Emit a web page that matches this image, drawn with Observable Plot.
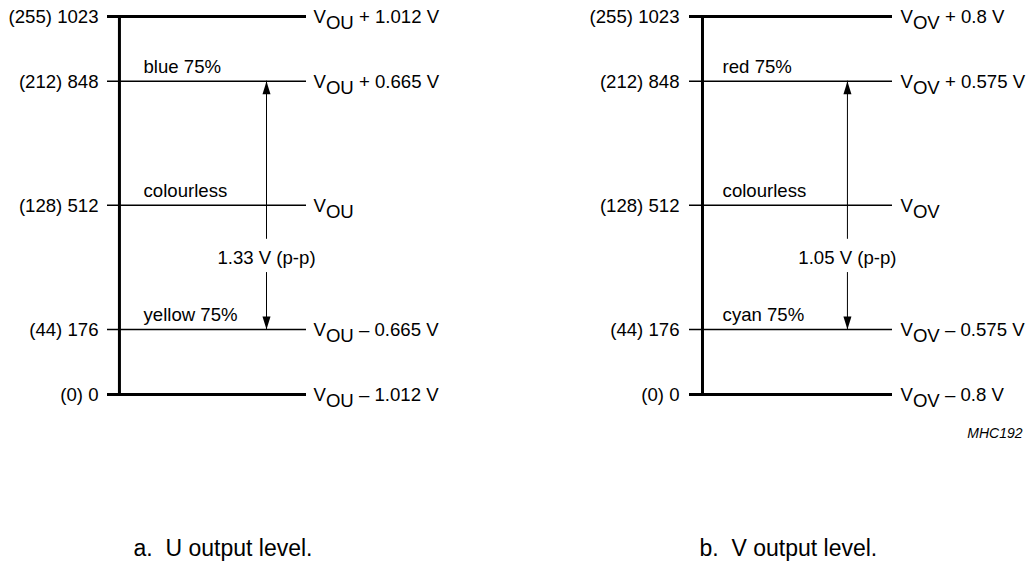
<!DOCTYPE html>
<html><head><meta charset="utf-8">
<script src="https://cdn.jsdelivr.net/npm/d3@7"></script>
<script src="https://cdn.jsdelivr.net/npm/@observablehq/plot@0.6"></script>
<style>
body{margin:0;background:#fff;}
#wrap{display:flex;width:1029px;height:562px;overflow:hidden;}
#wrap svg{display:block;flex:none;}
</style></head><body><div id="wrap"></div>
<script>
// ---- data ----
const codes10 = [1023, 848, 512, 176, 0];
const codes8 = [255, 212, 128, 44, 0];
const uOffsets = ["+ 1.012 V", "+ 0.665 V", "", "– 0.665 V", "– 1.012 V"];
const vOffsets = ["+ 0.8 V", "+ 0.575 V", "", "– 0.575 V", "– 0.8 V"];
const uColours = ["", "blue 75%", "colourless", "yellow 75%", ""];
const vColours = ["", "red 75%", "colourless", "cyan 75%", ""];
const ppLabels = ["1.33 V (p-p)", "1.05 V (p-p)"];
const outputNames = ["U", "V"];
const captions = ["a.\u00a0 U output level.", "b.\u00a0 V output level."];
const arrowLevels = [848, 176];
const figureId = "MHC192";

// ---- layout ----
const FONT = "'Liberation Sans', Arial, Helvetica, sans-serif";
const FS = 18.6;
const layouts = [
  {width: 514, marginLeft: 107, marginRight: 208, axisX: 0.06, labelX: 0.181, arrowX: 0.799, leftDx: -9, rightDx: 7, capDx: 26},
  {width: 515, marginLeft: 175, marginRight: 137, axisX: 0.064, labelX: 0.163, arrowX: 0.778, leftDx: -10, rightDx: 8, capDx: 10}
];
const gapTop = 420, gapBottom = 330, ppLevel = 370;

const arrowUp = {draw(ctx) { ctx.moveTo(0, 0); ctx.lineTo(-4, 13); ctx.lineTo(4, 13); ctx.closePath(); }};
const arrowDown = {draw(ctx) { ctx.moveTo(0, 0); ctx.lineTo(-4, -13); ctx.lineTo(4, -13); ctx.closePath(); }};

function panel(i) {
  const L = layouts[i];
  const offsets = i === 0 ? uOffsets : vOffsets;
  const colours = i === 0 ? uColours : vColours;
  const rows = codes10.map((c, k) => ({
    code: c,
    left: `(${codes8[k]}) ${c}`,
    right: `V|O${outputNames[i]}|${offsets[k]}`,
    colour: colours[k],
    major: c === d3.max(codes10) || c === d3.min(codes10)
  }));
  const marks = [
    Plot.ruleY(rows, {y: "code", x1: 0, x2: 1, stroke: "black", strokeWidth: d => d.major ? 3 : 1.5}),
    Plot.ruleX([L.axisX], {x: d => d, y1: d3.min(codes10), y2: d3.max(codes10), stroke: "black", strokeWidth: 3}),
    Plot.text(rows, {x: 0, y: "code", text: "left", textAnchor: "end", dx: L.leftDx, dy: 1, fontSize: FS, fill: "black"}),
    Plot.text(rows, {x: 1, y: "code", text: "right", textAnchor: "start", dx: L.rightDx, dy: 1, fontSize: FS, fill: "black"}),
    Plot.text(rows.filter(d => d.colour), {x: L.labelX, y: "code", text: "colour", textAnchor: "start", lineAnchor: "bottom", dy: -8, fontSize: FS, fill: "black"}),
    Plot.ruleX([L.arrowX], {x: d => d, y1: arrowLevels[0], y2: gapTop, stroke: "black", strokeWidth: 1}),
    Plot.ruleX([L.arrowX], {x: d => d, y1: gapBottom, y2: arrowLevels[1], stroke: "black", strokeWidth: 1}),
    Plot.dot([arrowLevels[0]], {x: L.arrowX, y: d => d, symbol: arrowUp, fill: "black", stroke: "none"}),
    Plot.dot([arrowLevels[1]], {x: L.arrowX, y: d => d, symbol: arrowDown, fill: "black", stroke: "none"}),
    Plot.text([ppLabels[i]], {x: L.arrowX, y: ppLevel, text: d => d, textAnchor: "middle", fontSize: FS, fill: "black"}),
    Plot.text([captions[i]], {frameAnchor: "bottom-left", text: d => d, dx: L.capDx, dy: 161, lineAnchor: "bottom", textAnchor: "start", fontSize: 23, fill: "black"})
  ];
  if (i === 1) {
    marks.push(Plot.text([figureId], {frameAnchor: "bottom-right", text: d => d, dx: 130, dy: 43, lineAnchor: "bottom", textAnchor: "end", fontSize: 14, fontStyle: "italic", fill: "black"}));
  }
  const svg = Plot.plot({
    width: L.width, height: 562,
    marginLeft: L.marginLeft, marginRight: L.marginRight, marginTop: 16, marginBottom: 168,
    x: {domain: [0, 1], axis: null},
    y: {domain: [0, 1023], axis: null},
    style: {fontFamily: FONT, fontSize: FS + "px", background: "white", color: "black", overflow: "visible"},
    marks
  });
  svg.querySelectorAll("text").forEach(el => {
    const s = el.textContent;
    if (!s.includes("|")) return;
    const parts = s.split("|");
    const t = d3.select(el);
    t.text(null);
    t.append("tspan").text(parts[0]);
    t.append("tspan").attr("dy", 6).text(parts[1]);
    if (parts[2]) t.append("tspan").attr("dy", -6).text("\u00a0" + parts[2]);
  });
  return svg;
}

const wrap = document.getElementById("wrap");
wrap.appendChild(panel(0));
wrap.appendChild(panel(1));
</script>
</body></html>
